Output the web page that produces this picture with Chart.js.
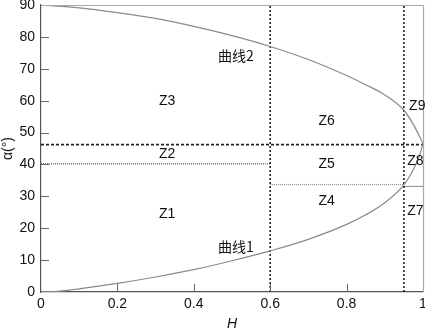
<!DOCTYPE html>
<html>
<head>
<meta charset="utf-8">
<script src="https://cdn.jsdelivr.net/npm/chart.js@4/dist/chart.umd.min.js"></script>
<style>
  html, body { margin: 0; padding: 0; background: #fff; }
  #wrap { width: 425px; height: 333px; }
</style>
</head>
<body>
<div id="wrap"><canvas id="chart"></canvas></div>
<script>
'use strict';

// curve 1 (lower) and curve 2 (upper)
const hCurve1 = [0, 0.03, 0.1, 0.2, 0.3, 0.4, 0.5, 0.6, 0.7, 0.8, 0.85, 0.9, 0.95, 0.975, 0.99, 1.0];
const aCurve1 = [0, 0.1, 1.0, 2.7, 4.7, 7.0, 9.8, 12.9, 16.5, 21.2, 24.2, 28.0, 33.6, 38.5, 42.5, 46.5];
const hCurve2 = [0, 0.1, 0.2, 0.3, 0.4, 0.5, 0.6, 0.7, 0.8, 0.85, 0.9, 0.95, 0.975, 0.99, 1.0];
const aCurve2 = [90, 89.1, 87.6, 85.8, 83.3, 80.4, 77.0, 72.9, 67.9, 65.0, 61.8, 57.0, 52.5, 49.0, 46.5];

// zone boundaries
const vLinesH   = [0.6, 0.95];
const dashedA   = 46.2;
const dottedA   = 40.2;
const lowSplitA = [33.7, 33.1];

const xTicks = [0, 0.2, 0.4, 0.6, 0.8, 1];
const yTicks = [0, 10, 20, 30, 40, 50, 60, 70, 80, 90];

const zoneNames = ['Z1', 'Z2', 'Z3', 'Z4', 'Z5', 'Z6', 'Z7', 'Z8', 'Z9', '曲线1', '曲线2'];
const zoneH     = [0.33, 0.33, 0.33, 0.748, 0.748, 0.748, 0.98, 0.98, 0.985, 0.51, 0.51];
const zoneA     = [24.5, 43.1, 59.8, 28.6, 40.0, 53.5, 25.2, 40.9, 58.2, 14.2, 74.0];

const pts = (xs, ys) => xs.map((x, i) => ({ x, y: ys[i] }));
const FONT = "'Liberation Sans', Arial, sans-serif";
const CJK = "'Noto Sans CJK SC', 'Liberation Sans', sans-serif";

const curveStyle = { borderColor: '#8a8a8a', borderWidth: 1.2, pointRadius: 0, showLine: true, fill: false };

const datasets = [
  { ...curveStyle, data: pts(hCurve1, aCurve1), cubicInterpolationMode: 'monotone' },
  { ...curveStyle, data: pts(hCurve2, aCurve2), cubicInterpolationMode: 'monotone' },
  ...vLinesH.map(h => ({
    data: [{ x: h, y: 0 }, { x: h, y: 90 }],
    borderColor: '#222', borderWidth: 1.6, borderDash: [2, 2], pointRadius: 0, showLine: true
  })),
  { data: [{ x: 0, y: dashedA }, { x: 1, y: dashedA }],
    borderColor: '#222', borderWidth: 1.6, borderDash: [3, 2], pointRadius: 0, showLine: true },
  { data: [{ x: 0, y: dottedA }, { x: 0.6, y: dottedA }],
    borderColor: '#555', borderWidth: 1.2, borderDash: [1, 1], pointRadius: 0, showLine: true },
  { data: [{ x: 0.6, y: lowSplitA[0] }, { x: 0.95, y: lowSplitA[0] }],
    borderColor: '#888', borderWidth: 1.2, borderDash: [1, 1], pointRadius: 0, showLine: true },
  { data: [{ x: 0.95, y: lowSplitA[1] }, { x: 1, y: lowSplitA[1] }],
    borderColor: '#999', borderWidth: 1.2, pointRadius: 0, showLine: true }
];

// frame, inward ticks and in-plot labels
const decor = {
  id: 'decor',
  afterDatasetsDraw(chart) {
    const { ctx, chartArea: a, scales: { x, y } } = chart;
    ctx.save();
    ctx.strokeStyle = '#aaa';
    ctx.lineWidth = 1.2;
    ctx.beginPath();
    ctx.moveTo(a.left, a.top + 0.5); ctx.lineTo(a.right + 0.5, a.top + 0.5);
    ctx.lineTo(a.right + 0.5, a.bottom);
    ctx.stroke();

    ctx.strokeStyle = '#666';
    ctx.lineWidth = 1;
    ctx.beginPath();
    yTicks.slice(1, -1).forEach(v => {
      const py = Math.round(y.getPixelForValue(v)) + 0.5;
      ctx.moveTo(a.left, py); ctx.lineTo(a.left + 8, py);
    });
    xTicks.slice(1, -1).forEach(v => {
      const px = Math.round(x.getPixelForValue(v)) + 0.5;
      ctx.moveTo(px, a.bottom); ctx.lineTo(px, a.bottom - 8);
    });
    ctx.stroke();

    ctx.fillStyle = '#111';
    ctx.textAlign = 'center';
    ctx.textBaseline = 'middle';
    zoneNames.forEach((t, i) => {
      ctx.font = (t.startsWith('Z') ? '14px ' + FONT : '14px ' + CJK);
      ctx.fillText(t, x.getPixelForValue(zoneH[i]), y.getPixelForValue(zoneA[i]));
    });
    ctx.restore();
  }
};

new Chart(document.getElementById('chart'), {
  type: 'scatter',
  data: { datasets },
  plugins: [decor],
  options: {
    responsive: true,
    maintainAspectRatio: false,
    animation: false,
    layout: { padding: { top: 5, right: 2, left: 0, bottom: 0 } },
    plugins: { legend: { display: false }, tooltip: { enabled: false } },
    scales: {
      x: {
        type: 'linear', min: 0, max: 1,
        afterBuildTicks: s => { s.ticks = xTicks.map(v => ({ value: v })); },
        afterFit: s => { s.height = 41; s.paddingRight = 0; s.paddingLeft = 0; },
        grid: { display: false, drawTicks: false },
        border: { display: true, color: '#555', width: 1.2 },
        ticks: { color: '#111', font: { family: FONT, size: 14 }, padding: 4, maxRotation: 0,
                 callback: v => String(v) },
        title: { display: true, text: 'H', color: '#111', padding: { top: 1, bottom: 0 },
                 font: { family: FONT, size: 14, style: 'italic' } }
      },
      y: {
        type: 'linear', min: 0, max: 90,
        afterBuildTicks: s => { s.ticks = yTicks.map(v => ({ value: v })); },
        afterFit: s => { s.width = 41; s.paddingTop = 0; s.paddingBottom = 0; },
        grid: { display: false, drawTicks: false },
        border: { display: true, color: '#555', width: 1.2 },
        ticks: { color: '#111', font: { family: FONT, size: 14 }, padding: 6 },
        title: { display: true, text: 'α(°)', color: '#111', padding: { top: 0, bottom: 0 },
                 font: { family: FONT, size: 14 } }
      }
    }
  }
});
</script>
</body>
</html>
